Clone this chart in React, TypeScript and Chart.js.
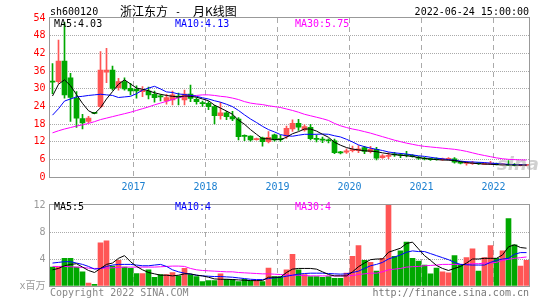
import React, { useEffect, useRef } from 'react';
import { Chart, registerables } from 'chart.js';
Chart.register(...registerables);

// ---------- data ----------
const months: string[] = (() => {
  const out: string[] = [];
  let y = 2015, m = 11;
  for (let k = 0; k < 80; k++) {
    out.push(`${y}-${String(m).padStart(2, '0')}`);
    m++;
    if (m > 12) { m = 1; y++; }
  }
  return out;
})();
const yearTicks = ['2017-01', '2018-01', '2019-01', '2020-01', '2021-01', '2022-01'];
const yearLabels = ['2017', '2018', '2019', '2020', '2021', '2022'];

const opens = [32.6, 32.4, 39.4, 33.7, 26.7, 19.8, 18.9, 21.8, 23.9, 35.6,
  36.3, 30.3, 32.4, 30.1, 29.8, 29.0, 29.2, 28.1, 27.5, 25.8,
  26.2, 27.5, 26.2, 28.2, 26.4, 25.1, 25.0, 23.9, 20.8, 21.8,
  20.5, 19.7, 14.0, 13.9, 12.7, 13.3, 12.0, 14.3, 12.9, 13.9,
  16.3, 18.2, 16.0, 16.9, 13.0, 12.8, 12.5, 12.3, 8.4, 8.4,
  8.9, 8.9, 10.0, 8.6, 9.4, 6.6, 7.0, 7.8, 7.5, 7.6,
  7.3, 6.7, 6.4, 6.1, 6.2, 5.8, 6.0, 6.2, 5.0, 4.6,
  4.5, 4.7, 4.3, 4.4, 4.5, 4.1, 4.3, 4.1, 3.9, 3.95];
const highs = [38.5, 46.5, 52.5, 35.2, 29.0, 21.3, 20.6, 21.9, 42.6, 43.7,
  37.7, 33.5, 33.7, 31.8, 31.0, 30.7, 30.5, 29.2, 28.0, 28.1,
  29.2, 28.5, 29.5, 31.2, 26.9, 25.8, 25.6, 24.3, 25.4, 22.3,
  22.3, 20.2, 14.3, 14.0, 13.2, 13.6, 15.4, 14.6, 14.2, 17.3,
  19.4, 19.6, 17.7, 17.9, 14.2, 13.6, 13.0, 12.9, 8.7, 9.6,
  10.5, 10.7, 10.4, 10.4, 10.1, 7.6, 8.3, 8.4, 8.0, 8.7,
  7.6, 7.0, 6.7, 6.4, 6.5, 6.4, 6.6, 6.6, 5.3, 5.3,
  5.3, 4.9, 4.8, 5.3, 4.7, 4.6, 5.6, 4.6, 4.3, 4.2];
const lows = [28.3, 31.8, 26.8, 18.9, 16.8, 16.3, 18.4, 21.5, 23.5, 32.0,
  29.5, 29.5, 29.5, 27.9, 26.8, 27.3, 26.5, 25.4, 25.8, 24.7,
  24.5, 24.5, 24.5, 25.6, 24.7, 24.0, 22.9, 18.0, 19.6, 19.5,
  19.1, 12.6, 12.3, 12.2, 12.5, 10.5, 11.6, 12.2, 12.1, 13.1,
  15.5, 15.8, 15.6, 12.6, 11.9, 11.7, 11.6, 7.9, 7.8, 8.0,
  8.5, 8.3, 7.9, 8.2, 5.8, 6.3, 6.2, 7.0, 6.6, 6.8,
  6.7, 6.0, 5.8, 5.6, 5.7, 5.6, 5.8, 4.7, 4.4, 4.0,
  4.3, 4.3, 4.2, 4.2, 4.1, 4.0, 4.0, 3.8, 3.8, 3.8];
const closes = [32.2, 39.4, 27.9, 27.0, 20.0, 18.4, 20.0, 21.6, 36.3, 36.3,
  30.1, 32.4, 29.9, 29.2, 29.2, 29.5, 27.9, 26.9, 27.2, 27.0,
  27.9, 27.0, 28.2, 26.7, 25.6, 24.9, 23.9, 20.8, 21.8, 20.5,
  19.7, 13.7, 13.8, 12.6, 12.9, 12.0, 13.5, 12.6, 12.7, 16.5,
  18.2, 16.9, 17.1, 13.0, 12.8, 12.5, 12.3, 8.3, 8.2, 8.9,
  9.3, 9.6, 8.7, 9.4, 6.4, 7.2, 7.3, 7.5, 7.3, 7.3,
  7.0, 6.4, 6.1, 5.9, 5.9, 6.1, 6.2, 5.0, 4.7, 4.8,
  4.7, 4.5, 4.5, 4.5, 4.2, 4.3, 4.0, 3.9, 4.0, 4.05];

const ma5 = [27.5, 31.5, 33.0, 31.0, 28.0, 25.0, 22.5, 21.5, 23.5, 26.5,
  29.0, 31.5, 33.0, 31.6, 30.2, 29.8, 29.3, 28.6, 28.1, 27.7,
  27.4, 27.2, 27.5, 27.4, 27.1, 26.5, 25.9, 24.4, 23.4, 22.4,
  21.3, 19.3, 17.9, 16.1, 14.5, 13.0, 13.0, 12.7, 12.7, 13.5,
  14.7, 15.4, 16.3, 16.3, 15.6, 14.5, 13.5, 11.8, 10.8, 10.0,
  9.5, 9.2, 8.9, 8.8, 8.6, 8.2, 7.9, 7.6, 7.4, 7.2,
  7.0, 6.6, 6.3, 6.1, 5.9, 5.8, 5.7, 5.6, 5.2, 4.9,
  4.7, 4.5, 4.4, 4.3, 4.2, 4.1, 4.1, 4.05, 4.03, 4.03];
const ma10 = [21.0, 23.2, 25.8, 26.5, 27.2, 27.4, 27.7, 27.9, 28.1, 27.9,
  27.7, 27.0, 27.2, 27.4, 28.3, 29.5, 30.2, 30.8, 29.9, 28.9,
  28.7, 28.2, 28.0, 27.75, 27.4, 26.9, 26.5, 25.9, 25.4, 24.7,
  23.9, 22.6, 21.1, 19.7, 18.5, 17.2, 16.1, 15.3, 14.4, 14.0,
  13.85, 14.2, 14.5, 14.5, 14.5, 14.6, 14.5, 14.0, 13.6, 12.8,
  11.9, 10.9, 10.3, 9.8, 9.4, 9.0, 8.5, 8.2, 8.0, 7.8,
  7.5, 7.2, 7.0, 6.7, 6.4, 6.2, 5.9, 5.7, 5.4, 5.2,
  5.1, 5.0, 4.9, 4.7, 4.6, 4.4, 4.3, 4.2, 4.15, 4.13];
const ma30 = [15.0, 15.7, 16.3, 16.8, 17.3, 17.7, 18.2, 18.8, 19.5, 20.0,
  20.5, 21.0, 21.5, 22.0, 22.6, 23.2, 23.8, 24.5, 25.1, 25.7,
  26.3, 26.9, 27.4, 27.6, 27.7, 27.9, 27.9, 27.7, 27.4, 27.2,
  26.8, 26.3, 25.6, 25.1, 24.8, 24.6, 24.2, 23.9, 23.6, 23.1,
  22.6, 22.0, 21.3, 20.8, 20.3, 19.8, 19.2, 18.2, 17.4, 16.8,
  16.3, 15.9, 15.4, 14.9, 14.3, 13.7, 13.1, 12.5, 12.0, 11.5,
  11.1, 10.7, 10.4, 10.2, 10.0, 9.8, 9.6, 9.4, 9.1, 8.7,
  8.2, 7.7, 7.3, 6.9, 6.5, 6.2, 6.0, 5.9, 5.8, 5.75];

const volumes = [2.8, 2.8, 4.1, 4.1, 2.8, 2.1, 0.43, 0.24, 6.4, 6.7,
  2.95, 3.8, 2.8, 2.6, 1.85, 1.85, 2.4, 1.3, 1.7, 1.7,
  2.0, 1.5, 2.6, 1.7, 1.4, 0.67, 0.8, 0.8, 1.8, 1.0,
  1.0, 0.67, 1.0, 0.8, 0.8, 0.67, 2.67, 1.4, 1.4, 2.4,
  4.7, 2.4, 1.7, 1.4, 1.4, 1.3, 1.4, 1.15, 1.15, 1.9,
  4.4, 6.0, 3.8, 3.5, 2.2, 4.1, 12.0, 4.4, 5.2, 6.5,
  4.1, 3.7, 3.1, 1.8, 2.67, 2.1, 1.95, 4.5, 3.2, 4.2,
  5.5, 2.2, 4.2, 6.0, 4.1, 5.2, 10.0, 6.1, 2.95, 3.8];
const vma5 = [2.4, 2.6, 3.0, 3.2, 3.3, 2.8, 2.3, 2.0, 2.6, 3.2,
  3.4, 4.1, 4.5, 3.6, 2.9, 2.4, 2.0, 1.8, 1.6, 1.6,
  1.5, 1.6, 1.8, 1.8, 1.6, 1.5, 1.3, 1.05, 1.0, 1.0,
  0.95, 0.9, 0.85, 0.8, 0.8, 0.8, 1.3, 1.3, 1.3, 2.0,
  2.5, 2.6, 2.6, 2.6, 2.5, 2.1, 1.7, 1.5, 1.5, 1.5,
  2.1, 2.86, 3.4, 3.9, 4.0, 4.0, 5.0, 5.3, 5.6, 6.3,
  6.5, 5.5, 4.5, 3.8, 3.05, 2.6, 2.3, 2.6, 2.9, 3.4,
  4.0, 4.0, 4.1, 4.1, 4.1, 4.6, 5.8, 6.1, 5.7, 5.6];
const vma10 = [3.4, 3.5, 3.6, 3.6, 3.4, 3.2, 2.9, 2.5, 2.6, 2.9,
  3.1, 3.2, 3.2, 3.2, 3.1, 3.0, 3.0, 3.1, 3.2, 2.9,
  2.4, 2.1, 1.9, 1.76, 1.6, 1.5, 1.45, 1.4, 1.4, 1.35,
  1.3, 1.2, 1.1, 1.0, 0.95, 0.95, 1.1, 1.2, 1.3, 1.45,
  1.6, 1.76, 1.85, 1.9, 1.9, 1.9, 1.85, 1.8, 1.76, 1.8,
  2.0, 2.2, 2.6, 3.0, 3.2, 3.5, 4.0, 4.3, 4.6, 5.0,
  5.2, 5.1, 5.1, 4.8, 4.5, 4.2, 3.9, 3.5, 3.2, 3.15,
  3.1, 3.1, 3.1, 3.5, 3.8, 4.0, 4.1, 4.7, 4.95, 4.95];
const vma30 = [2.9, 2.9, 2.9, 2.85, 2.8, 2.75, 2.65, 2.6, 2.6, 2.65,
  2.7, 2.75, 2.8, 2.8, 2.8, 2.8, 2.8, 2.8, 2.85, 2.9,
  2.95, 2.95, 2.9, 2.6, 2.4, 2.3, 2.25, 2.2, 2.15, 2.1,
  2.1, 2.0, 1.95, 1.9, 1.85, 1.8, 1.8, 1.75, 1.7, 1.65,
  1.6, 1.6, 1.55, 1.5, 1.5, 1.5, 1.5, 1.5, 1.5, 1.5,
  1.55, 1.7, 1.8, 1.9, 1.9, 2.1, 2.4, 2.5, 2.6, 2.8,
  2.86, 2.9, 3.0, 3.05, 3.1, 3.2, 3.2, 3.2, 3.2, 3.2,
  3.3, 3.3, 3.4, 3.4, 3.5, 3.8, 3.95, 4.1, 4.2, 4.3];

const priceMax = 54;
const priceStep = 6;
const volMax = 12;
const volStep = 4;

// ---------- styles ----------
const MONO = "'DejaVu Sans Mono', 'Noto Sans CJK SC', monospace";
const CJK = "'Noto Sans CJK SC', sans-serif";
const UP = '#ff5555';
const DOWN = '#00a800';
const GRID = '#aaaaaa';
const NONE = 'rgba(0,0,0,0)';
const W = 545;

const candleColors = closes.map((c, i) => (c >= opens[i] ? UP : DOWN));
const yearIndex = (i: any) => (typeof i === 'number' && months[i] !== undefined ? yearTicks.indexOf(months[i]) : -1);

const framePlugin = {
  id: 'frame',
  afterDraw(chart: any) {
    const { ctx, chartArea } = chart;
    const l = Math.floor(chartArea.left);
    const t = Math.floor(chartArea.top);
    const r = Math.floor(chartArea.right);
    const b = Math.floor(chartArea.bottom);
    ctx.save();
    ctx.strokeStyle = '#999999';
    ctx.lineWidth = 1;
    ctx.setLineDash([]);
    ctx.strokeRect(l + 0.5, t - 0.5, r - l, b + 1 - t);
    ctx.restore();
  },
};

function xAxis(showLabels: boolean, height: number) {
  return {
    type: 'category',
    labels: months,
    offset: true,
    grid: {
      offset: true,
      drawTicks: false,
      color: (c: any) => (yearIndex(c.index) >= 0 ? GRID : NONE),
    },
    border: { display: false, dash: [5, 4] },
    ticks: {
      display: showLabels,
      autoSkip: false,
      maxRotation: 0,
      minRotation: 0,
      color: '#1a7fd0',
      font: { family: MONO, size: 10 },
      padding: 4,
      labelOffset: -3,
      callback: (_v: any, i: number) => {
        const k = yearIndex(i);
        return k >= 0 ? yearLabels[k] : '';
      },
    },
    afterFit: (s: any) => { s.height = height; },
  };
}

function lineDs(label: string, data: number[], color: string) {
  return {
    type: 'line', label, data, borderColor: color, borderWidth: 1,
    pointRadius: 0, tension: 0, fill: false, order: 0,
  };
}

function Txt(p: { x: number; cy: number; color?: string; size?: number; family?: string; right?: boolean; children: any; style?: any }) {
  const size = p.size ?? 10;
  const lh = Math.round(size * 1.3);
  const st: any = {
    position: 'absolute', top: p.cy - lh / 2, font: `${size}px ${p.family ?? MONO}`,
    lineHeight: `${lh}px`, color: p.color ?? '#000', whiteSpace: 'nowrap', zIndex: 2, ...p.style,
  };
  if (p.right) st.right = W - p.x; else st.left = p.x;
  return <div style={st}>{p.children}</div>;
}

export default function App() {
  const mainRef = useRef<HTMLCanvasElement>(null);
  const volRef = useRef<HTMLCanvasElement>(null);

  useEffect(() => {
    const main = new Chart(mainRef.current as HTMLCanvasElement, {
      type: 'bar',
      data: {
        labels: months,
        datasets: [
          lineDs('MA5', ma5, '#000000'),
          lineDs('MA10', ma10, '#0000ff'),
          lineDs('MA30', ma30, '#ff00ff'),
          {
            type: 'bar', label: 'body', data: opens.map((o, i) => [o, closes[i]]),
            backgroundColor: candleColors, barThickness: 5, minBarLength: 1,
            grouped: false, borderWidth: 0, order: 1,
          },
          {
            type: 'bar', label: 'wick', data: lows.map((l, i) => [l, highs[i]]),
            backgroundColor: candleColors, barThickness: 1, minBarLength: 1,
            grouped: false, borderWidth: 0, order: 2,
          },
        ] as any,
      },
      options: {
        animation: false,
        responsive: false,
        maintainAspectRatio: false,
        events: [],
        layout: { padding: { left: 0, right: 15.5, top: 18, bottom: 0 } },
        plugins: { legend: { display: false }, tooltip: { enabled: false } },
        scales: {
          x: xAxis(true, 18) as any,
          y: {
            min: 0, max: priceMax,
            ticks: { stepSize: priceStep, color: '#ff0000', font: { family: MONO, size: 10 }, padding: 4 },
            grid: {
              drawTicks: false,
              color: (c: any) => (c.tick && (c.tick.value === 0 || c.tick.value === priceMax) ? NONE : GRID),
            },
            border: { display: false, dash: [1, 1] },
            afterFit: (s: any) => { s.width = 49.5; },
          } as any,
        },
      },
      plugins: [framePlugin],
    });

    const vol = new Chart(volRef.current as HTMLCanvasElement, {
      type: 'bar',
      data: {
        labels: months,
        datasets: [
          lineDs('MA5', vma5, '#000000'),
          lineDs('MA10', vma10, '#0000ff'),
          lineDs('MA30', vma30, '#ff00ff'),
          {
            type: 'bar', label: 'volume', data: volumes,
            backgroundColor: candleColors, barThickness: 5, borderWidth: 0, order: 1,
          },
        ] as any,
      },
      options: {
        animation: false,
        responsive: false,
        maintainAspectRatio: false,
        events: [],
        layout: { padding: { left: 0, right: 15.5, top: 7, bottom: 14 } },
        plugins: { legend: { display: false }, tooltip: { enabled: false } },
        scales: {
          x: xAxis(false, 0) as any,
          y: {
            min: 0, max: volMax,
            ticks: {
              stepSize: volStep, color: '#999999', font: { family: MONO, size: 10 }, padding: 4,
              callback: (v: any) => (v === 0 ? 'x百万' : String(v)),
            },
            grid: {
              drawTicks: false,
              color: (c: any) => (c.tick && (c.tick.value === 0 || c.tick.value === volMax) ? NONE : GRID),
            },
            border: { display: false, dash: [1, 1] },
            afterFit: (s: any) => { s.width = 49.5; },
          } as any,
        },
      },
      plugins: [framePlugin],
    });

    return () => { main.destroy(); vol.destroy(); };
  }, []);

  return (
    <div style={{ position: 'absolute', left: 0, top: 0, width: W, height: 300, background: '#fff', overflow: 'hidden' }}>
      <canvas ref={mainRef} width={W} height={195} style={{ position: 'absolute', left: 0, top: 0, display: 'block' }} />
      <canvas ref={volRef} width={W} height={105} style={{ position: 'absolute', left: 0, top: 195, display: 'block' }} />

      <Txt x={50} cy={11}>sh600120</Txt>
      <Txt x={120} cy={11} size={12} family={CJK}>浙江东方</Txt>
      <Txt x={175} cy={11}>-</Txt>
      <Txt x={193} cy={11} size={12} family={CJK}>月K线图</Txt>
      <Txt x={529} cy={11} right>2022-06-24 15:00:00</Txt>

      <Txt x={54} cy={23.5} color="#000000">MA5:4.03</Txt>
      <Txt x={175} cy={23.5} color="#0000ff">MA10:4.13</Txt>
      <Txt x={295} cy={23.5} color="#ff00ff">MA30:5.75</Txt>

      <Txt x={54} cy={206.5} color="#000000">MA5:5</Txt>
      <Txt x={175} cy={206.5} color="#0000ff">MA10:4</Txt>
      <Txt x={295} cy={206.5} color="#ff00ff">MA30:4</Txt>

      <Txt x={50} cy={292.5} color="#888888">Copyright 2022 SINA.COM</Txt>
      <Txt x={529} cy={292.5} right color="#777777">http://finance.sina.com.cn</Txt>

      <Txt x={497} cy={163} size={18} family="'DejaVu Sans', sans-serif" color="rgba(150,150,150,0.45)"
        style={{ fontWeight: 'bold', fontStyle: 'italic', zIndex: 1 }}>sina</Txt>
    </div>
  );
}
